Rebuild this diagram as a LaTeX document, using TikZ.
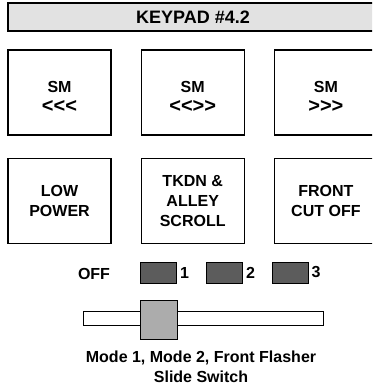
\documentclass[tikz,border=0pt]{standalone}
\usepackage{fontspec}
\setmainfont{Liberation Sans}[Ligatures=TeXOff]
\usetikzlibrary{positioning}
\definecolor{bargray}{RGB}{226,226,226}
\definecolor{ledgray}{RGB}{92,92,92}
\definecolor{knobgray}{RGB}{172,172,172}
\newcommand{\chev}[1]{{\fontsize{20}{20}\selectfont #1}}
\tikzset{
  titlebar/.style={rectangle, draw=black, fill=bargray,
    minimum width=370pt, minimum height=28pt, line width=1.2pt,
    font=\bfseries\fontsize{18}{20}\selectfont},
  key/.style={rectangle, draw=black, fill=white, align=center,
    minimum width=103pt, minimum height=85pt, line width=1.2pt,
    font=\bfseries\fontsize{16}{20}\selectfont},
  topkey/.style={key, text height=40pt},
  led/.style={rectangle, draw=black, fill=ledgray,
    minimum width=36pt, minimum height=21pt, line width=0.9pt},
  lbl/.style={inner sep=1pt, font=\bfseries\fontsize{16}{18}\selectfont},
  track/.style={rectangle, draw=black, fill=white,
    minimum width=240pt, minimum height=14pt, line width=1pt},
  knob/.style={rectangle, draw=black, fill=knobgray,
    minimum width=37pt, minimum height=39pt, line width=1pt},
  caption/.style={align=center, font=\bfseries\fontsize{16}{20}\selectfont}
}
\begin{document}
\begin{tikzpicture}[x=1pt, y=-1pt, node distance=29pt]
  \useasboundingbox (0,0) rectangle (372,387);
  \clip (0,0) rectangle (372,387);

  \node [titlebar] (title) at (193,17) {KEYPAD \#4.2};

  % keys
  \node [topkey] (smleft) at (59.5,92.5) {SM\\\chev{<<<}};
  \node [topkey, right=of smleft] (smboth) {SM\\\chev{<<>>}};
  \node [topkey, right=of smboth] (smright) {SM\\\chev{>>>}};
  \node [key, below=22pt of smleft] (lowpower) {LOW\\POWER};
  \node [key, right=of lowpower] (tkdn) {TKDN \&\\ALLEY\\SCROLL};
  \node [key, right=of tkdn] (frontcut) {FRONT\\CUT OFF};

  % mode indicators
  \node [lbl] (off) at (94,274) {OFF};
  \node [led] (led1) at (158.5,272.5) {};
  \node [lbl, right=2pt of led1] (num1) {1};
  \node [led] (led2) at (224.5,272.5) {};
  \node [lbl, right=2pt of led2] (num2) {2};
  \node [led] (led3) at (290,272.5) {};
  \node [lbl, right=2pt of led3] (num3) {3};

  % slide switch
  \node [track] (slot) at (203,318) {};
  \node [knob] (slider) at (158.5,319.5) {};
  \node [caption] (switchname) at (201,367) {Mode 1, Mode 2, Front Flasher\\Slide Switch};
\end{tikzpicture}
\end{document}
